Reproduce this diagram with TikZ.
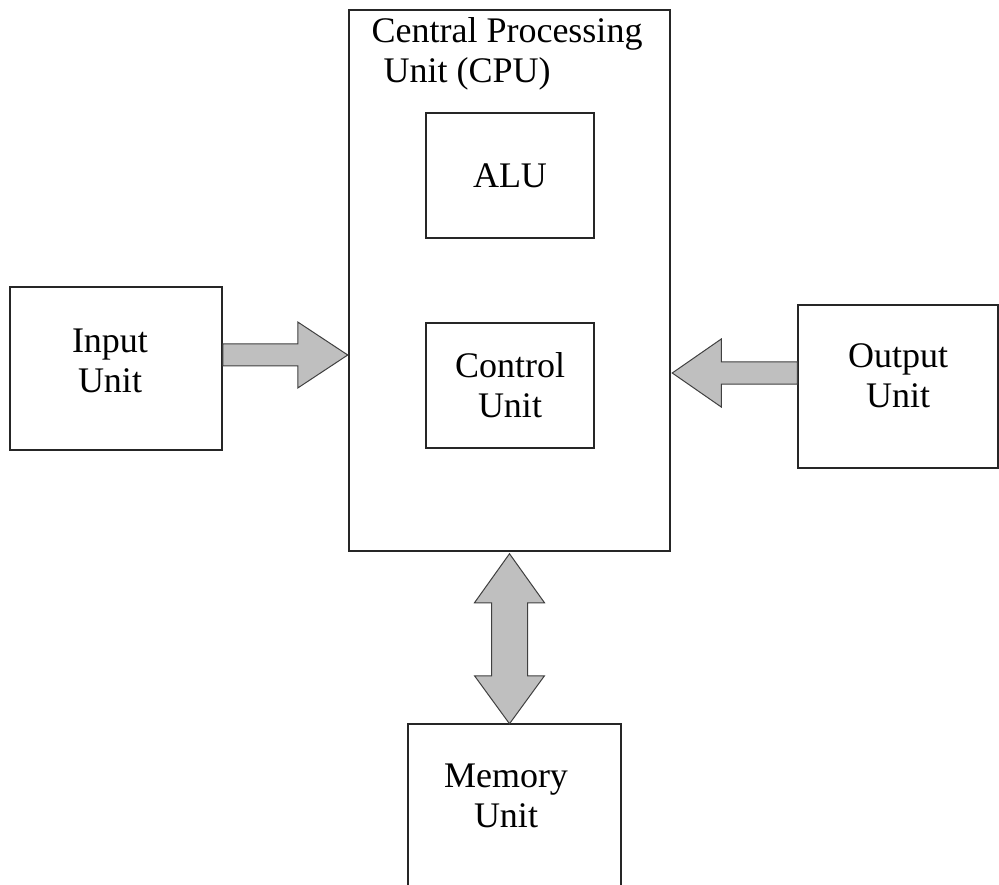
\documentclass[tikz,border=0pt]{standalone}
\usepackage{fontspec}
\setmainfont{Liberation Serif}
\usetikzlibrary{calc}
\tikzset{
	unitbox/.style={draw=black!85, line width=1.5pt, inner sep=0pt},
	unitlabel/.style={align=center, inner sep=0pt, font=\fontsize{36}{40}\selectfont},
	blockarrow/.style={draw=black!75, line width=1pt, fill=black!25, line join=miter}
}
\begin{document}
\begin{tikzpicture}[x=1pt, y=-1pt]
	\useasboundingbox (0,0) rectangle (999,885);
	\clip (0,0) rectangle (999,885);
	\node[unitbox, minimum width=321pt, minimum height=541pt] (cpu) at (509.5,280.5) {};
	\node[unitlabel, align=left] (cputitle) at (507,53.5) {Central Processing\\\hspace*{12pt}Unit (CPU)};
	\node[unitbox, unitlabel, minimum width=168pt, minimum height=125pt] (alu) at (510,175.5) {ALU};
	\node[unitbox, unitlabel, minimum width=168pt, minimum height=125pt] (control) at (510,385.5) {Control\\Unit};
	\node[unitbox, minimum width=212pt, minimum height=163pt] (input) at (116,368.5) {};
	\node[unitlabel] (inputtext) at (110,361) {Input\\Unit};
	\node[unitbox, minimum width=200pt, minimum height=163pt] (output) at (898,386.5) {};
	\node[unitlabel] (outputtext) at (898,376) {Output\\Unit};
	\node[unitbox, minimum width=213pt, minimum height=180pt] (memory) at (514.5,814) {};
	\node[unitlabel] (memorytext) at (506,796) {Memory\\Unit};
	\draw[blockarrow] ($(input.east)+(0,-24.5)$) -- ++(75,0) -- ++(0,-22) -- ++(50,33) -- ++(-50,33) -- ++(0,-22) -- ++(-75,0) -- cycle;
	\draw[blockarrow] ($(output.west)+(0,-24.5)$) -- ++(-76,0) -- ++(0,-23) -- ++(-49,34) -- ++(49,34) -- ++(0,-23) -- ++(76,0) -- cycle;
	\draw[blockarrow] ($(cpu.south)+(0,2)$) -- ++(35,49) -- ++(-17,0) -- ++(0,73) -- ++(17,0) -- ++(-35,48) -- ++(-35,-48) -- ++(17,0) -- ++(0,-73) -- ++(-17,0) -- cycle;
\end{tikzpicture}
\end{document}
